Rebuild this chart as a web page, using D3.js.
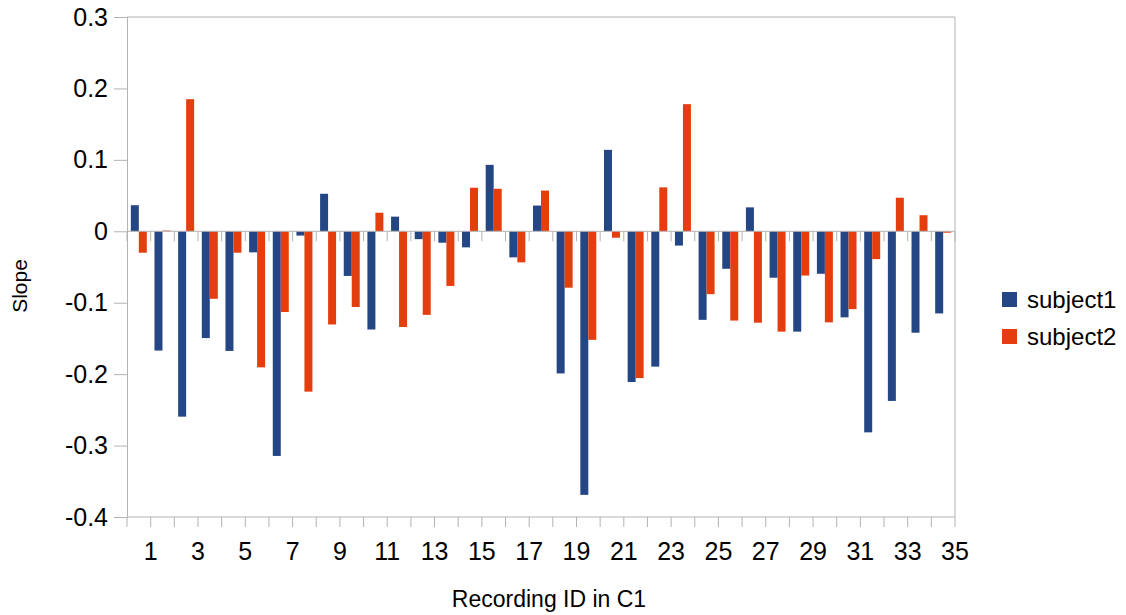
<!DOCTYPE html>
<html>
<head>
<meta charset="utf-8">
<script src="https://cdn.jsdelivr.net/npm/d3@7"></script>
<style>
  body { margin: 0; background: #fff; }
  text { font-family: "Liberation Sans", Arial, sans-serif; fill: #000; }
</style>
</head>
<body>
<div id="chart"></div>
<script>
// recording ids 1..35
var ids = d3.range(1, 36);
var seriesNames = ["subject1", "subject2"];
var subject1 = [0.0365, -0.167, -0.2595, -0.1495, -0.1675, -0.0295, -0.3145, -0.006, 0.0525, -0.0625,
  -0.1375, 0.0205, -0.011, -0.016, -0.0225, 0.093, -0.0365, 0.036, -0.199, -0.369,
  0.114, -0.211, -0.1895, -0.020, -0.124, -0.0525, 0.0335, -0.065, -0.1405, -0.0595,
  -0.1205, -0.2815, -0.2375, -0.142, -0.115];
var subject2 = [-0.030, 0.001, 0.185, -0.0945, -0.030, -0.1905, -0.113, -0.2245, -0.1305, -0.106,
  0.026, -0.134, -0.117, -0.0765, 0.061, 0.0595, -0.0435, 0.057, -0.079, -0.152,
  -0.009, -0.2055, 0.0615, 0.178, -0.088, -0.125, -0.128, -0.1405, -0.062, -0.1275,
  -0.109, -0.039, 0.047, 0.0225, -0.002];
var yTicks = [0.3, 0.2, 0.1, 0, -0.1, -0.2, -0.3, -0.4];
var colors = ["#254684", "#e53e0e"];

var width = 1126, height = 615;
var plotLeft = 127, plotRight = 955, plotTop = 17, plotBottom = 517;

var svg = d3.select("#chart").append("svg")
  .attr("width", width)
  .attr("height", height);

var x = d3.scaleBand()
  .domain(ids)
  .range([plotLeft, plotRight])
  .padding(0);

var x1 = d3.scaleBand()
  .domain(seriesNames)
  .range([0, x.bandwidth()])
  .paddingInner(0)
  .paddingOuter(0.48);

var y = d3.scaleLinear()
  .domain([-0.4, 0.3])
  .range([plotBottom, plotTop]);

var grey = "#b3b3b3";

// frame top / right
svg.append("line").attr("x1", plotLeft).attr("x2", plotRight).attr("y1", plotTop).attr("y2", plotTop)
  .attr("stroke", grey);
svg.append("line").attr("x1", plotRight).attr("x2", plotRight).attr("y1", plotTop).attr("y2", plotBottom)
  .attr("stroke", grey);

// y axis
var yAxis = svg.append("g")
  .attr("transform", "translate(" + plotLeft + ",0)")
  .call(d3.axisLeft(y).tickValues(yTicks).tickSize(13).tickPadding(6)
    .tickFormat(function(d) { return d === 0 ? "0" : d3.format(".1f")(d).replace("\u2212", "-"); }));
yAxis.selectAll("path, line").attr("stroke", grey);
yAxis.selectAll("text").style("font-size", "25px");

// bars
var rows = ids.map(function(id, i) {
  return { id: id, values: [subject1[i], subject2[i]] };
});

var groups = svg.selectAll("g.cat")
  .data(rows)
  .enter()
  .append("g")
  .attr("class", "cat")
  .attr("transform", function(d) { return "translate(" + x(d.id) + ",0)"; });

groups.selectAll("rect")
  .data(function(d) {
    return d.values.map(function(v, k) { return { key: seriesNames[k], value: v, k: k }; });
  })
  .enter()
  .append("rect")
  .attr("x", function(d) { return x1(d.key); })
  .attr("width", x1.bandwidth())
  .attr("y", function(d) { return y(Math.max(0, d.value)); })
  .attr("height", function(d) { return Math.abs(y(d.value) - y(0)); })
  .attr("fill", function(d) { return colors[d.k]; });

// category boundaries
var edges = ids.map(function(d) { return x(d); }).concat([plotRight]);

// zero line with small ticks
svg.append("line").attr("x1", plotLeft).attr("x2", plotRight).attr("y1", y(0)).attr("y2", y(0))
  .attr("stroke", grey);
svg.selectAll("line.zt")
  .data(edges)
  .enter()
  .append("line")
  .attr("class", "zt")
  .attr("x1", function(d) { return d; })
  .attr("x2", function(d) { return d; })
  .attr("y1", y(0))
  .attr("y2", y(0) + 10)
  .attr("stroke", grey);

// bottom axis line with ticks
svg.append("line").attr("x1", plotLeft).attr("x2", plotRight).attr("y1", plotBottom).attr("y2", plotBottom)
  .attr("stroke", grey);
svg.selectAll("line.bt")
  .data(edges)
  .enter()
  .append("line")
  .attr("class", "bt")
  .attr("x1", function(d) { return d; })
  .attr("x2", function(d) { return d; })
  .attr("y1", plotBottom)
  .attr("y2", plotBottom + 10)
  .attr("stroke", grey);

// x labels (odd ids, sitting on right edge of their band)
svg.selectAll("text.xl")
  .data(ids.filter(function(d) { return d % 2 === 1; }))
  .enter()
  .append("text")
  .attr("class", "xl")
  .attr("x", function(d) { return x(d) + x.bandwidth(); })
  .attr("y", 560)
  .attr("text-anchor", "middle")
  .style("font-size", "25px")
  .text(function(d) { return d; });

// axis titles
svg.append("text")
  .attr("x", 549)
  .attr("y", 607)
  .attr("text-anchor", "middle")
  .style("font-size", "23px")
  .text("Recording ID in C1");

svg.append("text")
  .attr("transform", "translate(27,286) rotate(-90)")
  .attr("text-anchor", "middle")
  .style("font-size", "21px")
  .text("Slope");

// legend
var legend = svg.selectAll("g.legend")
  .data(seriesNames)
  .enter()
  .append("g")
  .attr("class", "legend")
  .attr("transform", function(d, i) { return "translate(1002," + (292 + i * 37) + ")"; });

legend.append("rect")
  .attr("width", 15)
  .attr("height", 15)
  .attr("fill", function(d, i) { return colors[i]; });

legend.append("text")
  .attr("x", 25)
  .attr("y", 16)
  .style("font-size", "24px")
  .text(function(d) { return d; });
</script>
</body>
</html>
